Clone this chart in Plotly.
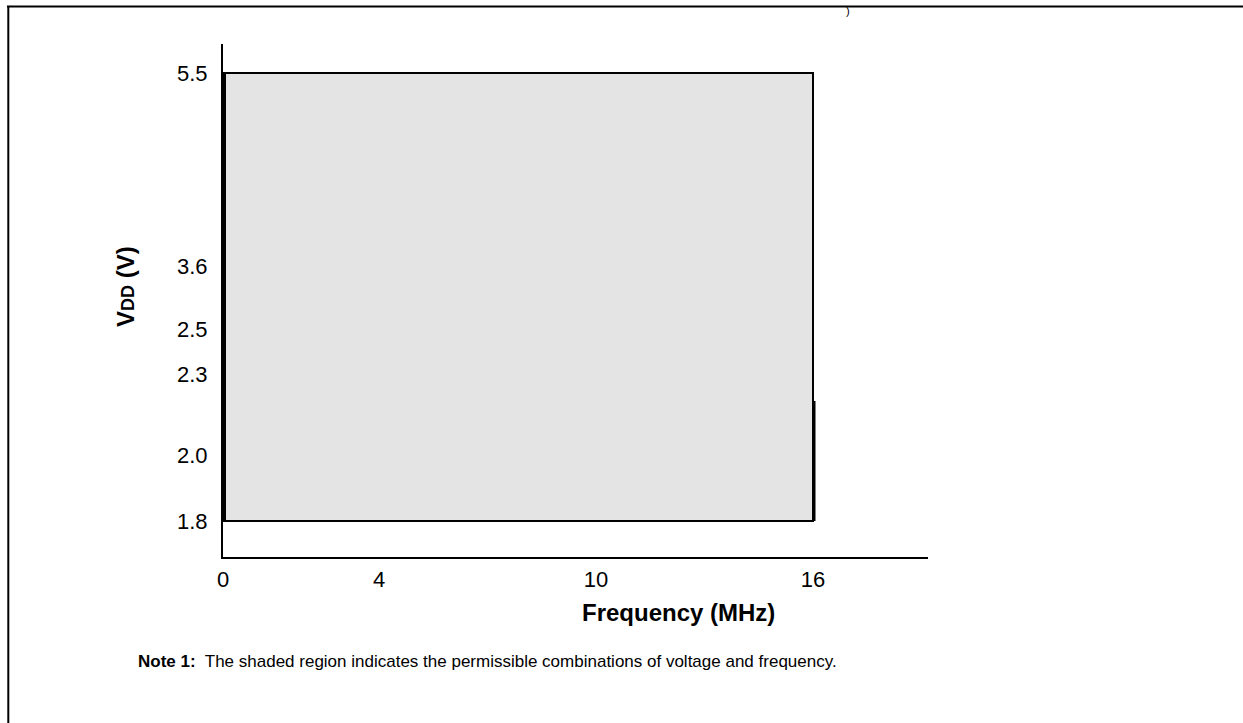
import numpy as np
import plotly.graph_objects as go

# tick values
freq_ticks = [0, 4, 10, 16]
vdd_ticks = [1.8, 2.0, 2.3, 2.5, 3.6, 5.5]

# shaded operating region (MHz, V)
region_freq = [0, 16, 16, 0, 0]
region_vdd = [1.8, 1.8, 5.5, 5.5, 1.8]

# heavier boundary segments
edge_left_freq = [0, 0]
edge_left_vdd = [1.8, 5.5]
edge_right_freq = [16, 16]
edge_right_vdd = [1.8, 2.2]

# the datasheet axes are not to scale: where each tick sits along its axis
freq_axis_pos = [0, 156, 373, 590]
vdd_axis_pos = [36, 102, 183, 228, 291, 484]
x_len = 705
y_len = 513


def fx(v):
    return np.interp(v, freq_ticks, freq_axis_pos)


def fy(v):
    return np.interp(v, vdd_ticks, vdd_axis_pos)


FONT = "Liberation Sans, Arial, sans-serif"

fig = go.Figure()
fig.add_trace(
    go.Scatter(
        x=fx(region_freq),
        y=fy(region_vdd),
        mode="lines",
        fill="toself",
        fillcolor="#e4e4e4",
        line=dict(color="black", width=2),
        cliponaxis=False,
        hoverinfo="skip",
    )
)
fig.add_trace(
    go.Scatter(
        x=fx(edge_left_freq) + 1.5,
        y=fy(edge_left_vdd),
        mode="lines",
        line=dict(color="black", width=3),
        cliponaxis=False,
        hoverinfo="skip",
    )
)
fig.add_trace(
    go.Scatter(
        x=fx(edge_right_freq) + 1,
        y=fy(edge_right_vdd),
        mode="lines",
        line=dict(color="black", width=3),
        cliponaxis=False,
        hoverinfo="skip",
    )
)

fig.update_layout(
    width=1243,
    height=723,
    margin=dict(l=223, r=315, t=44, b=166),
    plot_bgcolor="white",
    paper_bgcolor="white",
    showlegend=False,
    font=dict(family=FONT, size=22, color="black"),
)
fig.update_xaxes(
    range=[0, x_len],
    tickvals=fx(freq_ticks),
    ticktext=[str(t) for t in freq_ticks],
    showline=True,
    linewidth=2,
    linecolor="black",
    showgrid=False,
    zeroline=False,
    ticks="",
    ticklabelstandoff=2,
)
fig.update_yaxes(
    range=[0, y_len],
    tickvals=fy(vdd_ticks),
    ticktext=["%.1f" % t for t in vdd_ticks],
    showline=True,
    linewidth=2,
    linecolor="black",
    showgrid=False,
    zeroline=False,
    ticks="",
    ticklabelstandoff=9,
)


def px_x(p):
    return (p - 223) / x_len


def px_y(p):
    return (557 - p) / y_len


# outer frame (top and left only)
fig.add_shape(type="line", xref="paper", yref="paper",
              x0=px_x(7), x1=px_x(1250), y0=px_y(6.5), y1=px_y(6.5),
              line=dict(color="black", width=2))
fig.add_shape(type="line", xref="paper", yref="paper",
              x0=px_x(8.3), x1=px_x(8.3), y0=px_y(6), y1=px_y(730),
              line=dict(color="black", width=2))

fig.add_annotation(
    text="V<span style='font-size:18px'>DD</span> (V)",
    xref="paper", yref="paper", x=px_x(125), y=px_y(287),
    xanchor="center", yanchor="middle",
    textangle=-90, showarrow=False,
    font=dict(family=FONT, size=24, color="black", weight="bold"),
)
fig.add_annotation(
    text="<b>Frequency (MHz)</b>",
    xref="paper", yref="paper", x=px_x(678), y=px_y(612),
    xanchor="center", yanchor="middle",
    showarrow=False, font=dict(family=FONT, size=24, color="black"),
)
fig.add_annotation(
    text="<b>Note 1:</b>  The shaded region indicates the permissible combinations of voltage and frequency.",
    xref="paper", yref="paper", x=px_x(136), y=px_y(661),
    xanchor="left", yanchor="middle", showarrow=False,
    font=dict(family=FONT, size=17, color="black"),
)
fig.add_annotation(
    text=")", xref="paper", yref="paper", x=px_x(848), y=px_y(11),
    xanchor="center", yanchor="middle",
    showarrow=False, font=dict(family=FONT, size=11, color="black"),
)

fig.write_html(
    "out.html",
    config={"displayModeBar": False},
    post_script="document.body.style.margin='0';document.body.style.overflow='hidden';",
)
